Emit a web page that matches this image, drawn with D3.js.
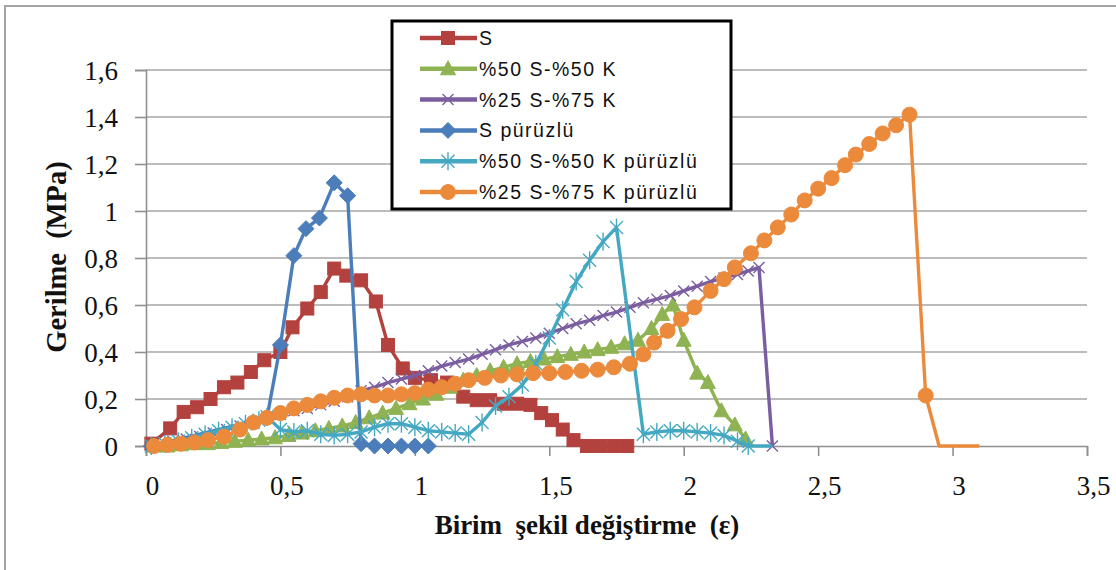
<!DOCTYPE html>
<html>
<head>
<meta charset="utf-8">
<script src="https://cdn.jsdelivr.net/npm/d3@7"></script>
<style>
  html, body { margin: 0; padding: 0; background: #fff; }
  svg { display: block; }
  text { white-space: pre; }
</style>
</head>
<body>
<svg id="chart" width="1116" height="570"></svg>
<script>
// Tick labels (Turkish decimal comma)
const xTicks = [0, 0.5, 1, 1.5, 2, 2.5, 3, 3.5];
const xTickLabels = ["0", "0,5", "1", "1,5", "2", "2,5", "3", "3,5"];
const yTicks = [0, 0.2, 0.4, 0.6, 0.8, 1, 1.2, 1.4, 1.6];
const yTickLabels = ["0", "0,2", "0,4", "0,6", "0,8", "1", "1,2", "1,4", "1,6"];

const seriesNames = ["S", "%50 S-%50 K", "%25 S-%75 K", "S pürüzlü", "%50 S-%50 K pürüzlü", "%25 S-%75 K pürüzlü"];

// S
const sX = [0.02,0.09,0.14,0.19,0.24,0.29,0.34,0.39,0.44,0.50,0.545,0.60,0.65,0.70,0.745,0.80,0.855,0.90,0.955,1.00,1.06,1.12,1.18,1.23,1.28,1.33,1.38,1.43,1.47,1.51,1.55,1.59,1.64,1.69,1.74,1.79];
const sY = [0.01,0.075,0.145,0.165,0.20,0.25,0.27,0.315,0.365,0.40,0.505,0.585,0.655,0.755,0.725,0.705,0.615,0.43,0.33,0.29,0.28,0.27,0.21,0.195,0.195,0.18,0.18,0.175,0.14,0.11,0.07,0.025,0,0,0,0];

// %50 S-%50 K
const gX = [0.03,0.08,0.13,0.18,0.23,0.28,0.33,0.38,0.43,0.48,0.53,0.58,0.63,0.68,0.73,0.78,0.83,0.88,0.93,0.98,1.03,1.08,1.13,1.18,1.23,1.28,1.33,1.38,1.43,1.48,1.53,1.58,1.63,1.68,1.73,1.78,1.83,1.88,1.92,1.96,2.00,2.05,2.09,2.14,2.19,2.23];
const gY = [0,0,0.005,0.01,0.01,0.015,0.02,0.025,0.03,0.035,0.045,0.055,0.065,0.075,0.085,0.10,0.12,0.14,0.16,0.18,0.20,0.22,0.25,0.28,0.30,0.32,0.335,0.35,0.36,0.37,0.38,0.39,0.40,0.41,0.42,0.435,0.45,0.50,0.56,0.60,0.45,0.31,0.27,0.15,0.09,0.03];

// %25 S-%75 K
const pX = [0.05,0.10,0.15,0.20,0.25,0.30,0.35,0.40,0.45,0.50,0.55,0.60,0.65,0.70,0.75,0.80,0.85,0.90,0.95,1.00,1.05,1.10,1.15,1.20,1.25,1.30,1.35,1.40,1.45,1.50,1.55,1.60,1.65,1.70,1.75,1.80,1.85,1.90,1.95,2.00,2.05,2.10,2.15,2.20,2.24,2.28,2.33];
const pY = [0.01,0.02,0.03,0.04,0.055,0.07,0.085,0.10,0.12,0.135,0.15,0.16,0.175,0.19,0.21,0.235,0.25,0.27,0.285,0.30,0.32,0.34,0.355,0.37,0.39,0.41,0.43,0.445,0.46,0.48,0.50,0.52,0.535,0.555,0.57,0.59,0.61,0.625,0.64,0.66,0.68,0.70,0.715,0.73,0.745,0.76,0];

// S pürüzlü
const bX = [0.02,0.45,0.50,0.55,0.595,0.645,0.70,0.75,0.80,0.85,0.90,0.95,1.00,1.05];
const bY = [0,0.12,0.43,0.81,0.925,0.97,1.12,1.065,0.01,0,0,0,0,0];

// %50 S-%50 K pürüzlü
const tX = [0.02,0.07,0.12,0.17,0.22,0.27,0.32,0.37,0.42,0.45,0.50,0.55,0.60,0.65,0.70,0.75,0.80,0.85,0.90,0.95,1.00,1.05,1.10,1.15,1.20,1.25,1.30,1.35,1.40,1.45,1.50,1.55,1.60,1.65,1.70,1.75,1.85,1.90,1.95,2.00,2.05,2.10,2.15,2.20,2.24];
const tY = [0,0.01,0.02,0.035,0.05,0.065,0.08,0.095,0.11,0.125,0.07,0.06,0.065,0.05,0.045,0.05,0.06,0.08,0.095,0.095,0.08,0.065,0.06,0.055,0.05,0.10,0.17,0.21,0.26,0.35,0.46,0.58,0.70,0.79,0.87,0.93,0.05,0.06,0.065,0.065,0.06,0.055,0.045,0.02,0];
const tTailX = [2.33];
const tTailY = [0];

// %25 S-%75 K pürüzlü
const oX = [0.03,0.08,0.13,0.18,0.23,0.29,0.35,0.40,0.45,0.50,0.55,0.60,0.65,0.70,0.75,0.80,0.85,0.90,0.95,1.00,1.05,1.10,1.15,1.20,1.26,1.32,1.38,1.44,1.50,1.56,1.62,1.68,1.74,1.80,1.85,1.89,1.94,1.99,2.04,2.10,2.15,2.19,2.25,2.30,2.35,2.40,2.45,2.50,2.55,2.60,2.64,2.69,2.74,2.79,2.84,2.90];
const oY = [0,0.005,0.01,0.015,0.025,0.04,0.07,0.10,0.12,0.14,0.16,0.175,0.19,0.205,0.215,0.22,0.215,0.215,0.22,0.225,0.24,0.25,0.265,0.28,0.29,0.30,0.305,0.31,0.31,0.315,0.32,0.325,0.335,0.35,0.39,0.44,0.49,0.54,0.59,0.66,0.71,0.76,0.82,0.875,0.93,0.985,1.045,1.095,1.14,1.195,1.24,1.285,1.33,1.365,1.41,0.215];
const oTailX = [2.95, 3.10];
const oTailY = [0, 0];

const svg = d3.select("#chart");
const W = 1116, H = 570;

const x = d3.scaleLinear().domain([0, 3.5]).range([146, 1087]);
const y = d3.scaleLinear().domain([0, 1.6]).range([446, 70]);

// outer chart frame
svg.append("rect").attr("x", 5).attr("y", 6).attr("width", W + 20).attr("height", H + 20)
  .attr("fill", "#fff").attr("stroke", "#a3a3a3").attr("stroke-width", 2);

// horizontal gridlines
svg.append("g").selectAll("line").data(yTicks.slice(1)).join("line")
  .attr("x1", x(0)).attr("x2", x(3.5))
  .attr("y1", d => y(d)).attr("y2", d => y(d))
  .attr("stroke", "#a6a6a6").attr("stroke-width", 1.6);

// y axis
const yAxis = d3.axisLeft(y).tickValues(yTicks).tickSize(11).tickPadding(17)
  .tickFormat((d, i) => yTickLabels[i]);
const gy = svg.append("g").attr("transform", `translate(${x(0)},0)`).call(yAxis);
gy.select(".domain").attr("stroke", "#8f8f8f").attr("stroke-width", 1.6);
gy.selectAll(".tick line").attr("stroke", "#8f8f8f").attr("stroke-width", 1.6);
gy.selectAll(".tick text").attr("font-family", "'Liberation Serif','Times New Roman',serif")
  .attr("font-size", 27).attr("fill", "#111").attr("dy", "0.34em");

// x axis
const xAxis = d3.axisBottom(x).tickValues(xTicks).tickSize(10).tickPadding(20)
  .tickFormat((d, i) => xTickLabels[i]);
const gx = svg.append("g").attr("transform", `translate(0,${y(0)})`).call(xAxis);
gx.select(".domain").attr("stroke", "#8f8f8f").attr("stroke-width", 1.6);
gx.selectAll(".tick line").attr("stroke", "#8f8f8f").attr("stroke-width", 1.6);
gx.selectAll(".tick text").attr("font-family", "'Liberation Serif','Times New Roman',serif")
  .attr("font-size", 27).attr("fill", "#111").attr("dx", 6);

// axis titles
svg.append("text").attr("x", 587).attr("y", 534).attr("text-anchor", "middle")
  .attr("font-family", "'Liberation Serif','Times New Roman',serif").attr("font-weight", "bold")
  .attr("font-size", 27).attr("fill", "#111").text("Birim  şekil değiştirme  (ε)");
svg.append("text").attr("transform", "translate(66,257) rotate(-90)").attr("text-anchor", "middle")
  .attr("font-family", "'Liberation Serif','Times New Roman',serif").attr("font-weight", "bold")
  .attr("font-size", 28.5).attr("fill", "#111").text("Gerilme  (MPa)");

// marker shapes
const markers = {
  square: g => g.append("rect").attr("x", -6.5).attr("y", -6.5).attr("width", 13).attr("height", 13),
  triangle: g => g.append("path").attr("d", "M0,-8L7.5,6L-7.5,6Z"),
  cross: g => g.append("path").attr("d", "M-5.5,-5.5L5.5,5.5M-5.5,5.5L5.5,-5.5").attr("fill", "none").attr("stroke-width", 1.4),
  diamond: g => g.append("path").attr("d", "M0,-8L8,0L0,8L-8,0Z"),
  star: g => g.append("path").attr("d", "M-6.5,-6.5L6.5,6.5M-6.5,6.5L6.5,-6.5M0,-9L0,9").attr("fill", "none").attr("stroke-width", 1.4),
  circle: g => g.append("circle").attr("r", 7.5)
};

const series = [
  { name: seriesNames[0], xs: sX, ys: sY, color: "#b3423e", marker: "square" },
  { name: seriesNames[1], xs: gX, ys: gY, color: "#8fb352", marker: "triangle" },
  { name: seriesNames[2], xs: pX, ys: pY, color: "#7b5ea0", marker: "cross" },
  { name: seriesNames[3], xs: bX, ys: bY, color: "#4a7dba", marker: "diamond" },
  { name: seriesNames[4], xs: tX, ys: tY, color: "#45a8c2", marker: "star", tailX: tTailX, tailY: tTailY },
  { name: seriesNames[5], xs: oX, ys: oY, color: "#ec8a3c", marker: "circle", tailX: oTailX, tailY: oTailY }
];

const line = d3.line().x(d => x(d[0])).y(d => y(d[1]));

series.forEach(s => {
  const pts = s.xs.map((v, i) => [v, s.ys[i]]);
  const all = s.tailX ? pts.concat(s.tailX.map((v, i) => [v, s.tailY[i]])) : pts;
  const g = svg.append("g");
  g.append("path").attr("d", line(all)).attr("fill", "none")
    .attr("stroke", s.color).attr("stroke-width", 3.4).attr("stroke-linejoin", "round");
  const mk = g.selectAll("g.m").data(pts).join("g").attr("class", "m")
    .attr("transform", d => `translate(${x(d[0])},${y(d[1])})`)
    .attr("fill", s.color).attr("stroke", s.color);
  mk.each(function () { markers[s.marker](d3.select(this)); });
});

// legend
const leg = svg.append("g");
leg.append("rect").attr("x", 392).attr("y", 21).attr("width", 339).attr("height", 188)
  .attr("fill", "#fff").attr("stroke", "#000").attr("stroke-width", 3);
series.forEach((s, i) => {
  const ry = 38 + i * 30.8;
  const r = leg.append("g");
  r.append("line").attr("x1", 420).attr("x2", 477).attr("y1", ry).attr("y2", ry)
    .attr("stroke", s.color).attr("stroke-width", 4.5);
  const m = r.append("g").attr("transform", `translate(448,${ry})`)
    .attr("fill", s.color).attr("stroke", s.color);
  markers[s.marker](m);
  r.append("text").attr("x", 479).attr("y", ry).attr("dy", "0.36em")
    .attr("font-family", "'Liberation Sans',Arial,sans-serif").attr("font-size", 19.5)
    .attr("letter-spacing", 1.5).attr("fill", "#111").text(s.name);
});
</script>
</body>
</html>
